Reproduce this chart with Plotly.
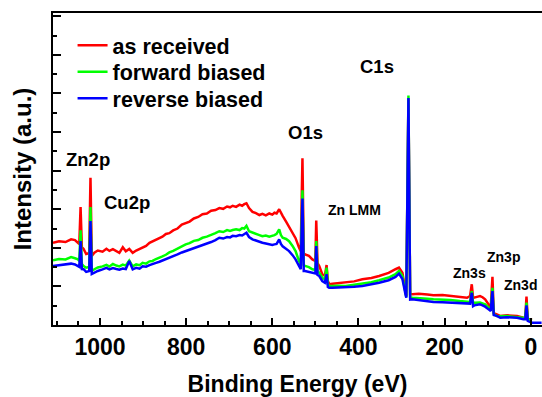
import plotly.graph_objects as go

# Binding energy grid (eV), shared by the three spectra
energy = [1109, 1095, 1080, 1067, 1058, 1051, 1048, 1045, 1042, 1038, 1032, 1025, 1022, 1019,
          1013, 1005, 994, 985, 978, 970, 962, 955, 947, 940, 932, 924, 916, 908, 901, 893, 885, 878,
          870, 862, 855, 847, 839, 830, 820, 810, 801, 792, 782, 772, 762, 752, 742, 732, 723, 714,
          705, 698, 692, 684, 676, 670, 665, 660, 654, 646, 638, 630, 623, 615, 607, 600, 595, 590,
          584, 580, 576, 568, 561, 553, 546, 538, 534,
          530, 527, 524, 515, 507, 500, 498, 495, 491, 484, 478, 474, 471, 468, 460, 450, 430, 410,
          391, 370, 352, 330, 314, 306, 298, 291, 289, 284, 280, 275, 260, 240, 226, 205, 187, 165,
          148, 141, 137, 134, 131, 125, 118, 112, 106, 98, 93, 89, 86, 79, 71, 55, 40, 32, 17, 13,
          10, 7, -3]

as_received = [4.26, 4.34, 4.30, 4.44, 4.40, 4.26, 4.20, 6.11, 4.04, 3.94, 3.68, 3.73, 7.63, 3.58,
               3.75, 3.86, 3.80, 3.95, 3.84, 3.93, 3.82, 3.74, 4.03, 3.82, 3.94, 3.74, 3.86, 3.95, 4.02, 4.10, 4.26, 4.33,
               4.44, 4.52, 4.58, 4.72, 4.76, 4.90, 5.00, 5.20, 5.28, 5.36, 5.52, 5.60, 5.74, 5.78, 5.92, 5.96, 6.06, 6.02,
               6.14, 6.10, 6.18, 6.12, 6.24, 6.18, 6.26, 6.31, 6.06, 5.86, 5.80, 5.70, 5.76, 5.68, 5.78, 5.72, 5.82, 5.78,
               6.00, 5.80, 5.66, 5.36, 5.06, 4.78, 4.50, 4.01, 3.83,
               8.64, 3.73, 3.66, 3.58, 3.40, 3.32, 5.42, 3.21, 3.06, 2.63, 2.54, 3.11, 2.28, 2.11, 2.14, 2.16, 2.19, 2.26,
               2.37, 2.44, 2.54, 2.70, 2.89, 2.97, 2.71, 1.76, 1.50, 11.70, 1.61, 1.59, 1.62, 1.58, 1.54, 1.55, 1.50, 1.46,
               1.41, 1.50, 2.11, 1.40, 1.41, 1.46, 1.50, 1.44, 1.33, 1.07, 0.90, 2.50, 0.62, 0.55, 0.47, 0.50, 0.46, 0.47, 0.38, 0.36,
               1.47, 0.31, 0.30]

forward_biased = [3.35, 3.42, 3.40, 3.52, 3.46, 3.40, 3.32, 4.91, 3.16, 3.06, 2.97, 3.01, 6.11, 2.80,
                  2.89, 2.98, 3.04, 3.12, 3.03, 3.16, 3.08, 3.04, 3.13, 3.08, 3.34, 3.04, 3.14, 3.10, 3.22, 3.18, 3.30, 3.32,
                  3.42, 3.48, 3.56, 3.64, 3.76, 3.84, 3.96, 4.06, 4.18, 4.24, 4.36, 4.40, 4.52, 4.58, 4.66, 4.76, 4.86, 4.82,
                  4.92, 4.88, 4.92, 4.96, 4.92, 5.02, 5.00, 5.14, 4.86, 4.78, 4.72, 4.66, 4.60, 4.64, 4.58, 4.62, 4.66, 4.72,
                  4.96, 4.66, 4.52, 4.46, 4.34, 4.10, 3.83, 3.32, 3.15,
                  6.98, 3.11, 3.06, 3.00, 2.89, 2.85, 4.35, 2.80, 2.71, 2.45, 2.37, 2.97, 2.12, 2.02, 2.02, 2.04, 2.02, 2.08,
                  2.14, 2.22, 2.32, 2.46, 2.63, 2.80, 2.54, 1.67, 1.45, 11.90, 1.45, 1.41, 1.40, 1.36, 1.33, 1.32, 1.30, 1.24,
                  1.19, 1.19, 1.76, 1.14, 1.15, 1.17, 1.16, 1.12, 1.07, 0.90, 0.78, 1.93, 0.57, 0.47, 0.45, 0.46, 0.42, 0.43, 0.38, 0.36,
                  1.16, 0.28, 0.26]

reverse_biased = [3.06, 3.10, 3.12, 3.18, 3.14, 3.06, 3.01, 4.35, 2.90, 2.89, 2.75, 2.80, 5.39, 2.64,
                  2.71, 2.80, 2.88, 2.96, 2.88, 2.95, 2.90, 2.87, 2.93, 2.90, 3.32, 2.88, 2.96, 2.92, 3.04, 3.02, 3.10, 3.14,
                  3.22, 3.28, 3.34, 3.40, 3.50, 3.58, 3.66, 3.76, 3.83, 3.90, 3.98, 4.06, 4.14, 4.20, 4.30, 4.40, 4.52, 4.48,
                  4.56, 4.54, 4.62, 4.60, 4.66, 4.64, 4.70, 4.78, 4.56, 4.44, 4.38, 4.30, 4.26, 4.22, 4.18, 4.15, 4.18, 4.20,
                  4.44, 4.20, 4.08, 3.96, 3.83, 3.62, 3.40, 3.06, 2.89,
                  6.56, 2.80, 2.80, 2.75, 2.71, 2.67, 4.09, 2.59, 2.54, 2.28, 2.19, 2.63, 1.97, 1.93, 1.93, 1.94, 1.93, 1.98,
                  2.02, 2.10, 2.19, 2.32, 2.49, 2.66, 2.38, 1.61, 1.41, 11.76, 1.32, 1.33, 1.28, 1.24, 1.19, 1.18, 1.16, 1.14,
                  1.12, 1.11, 1.67, 0.98, 1.02, 1.05, 1.07, 1.02, 0.95, 0.81, 0.73, 1.76, 0.52, 0.47, 0.38, 0.40, 0.37, 0.38, 0.30, 0.30,
                  1.02, 0.21, 0.12]
reverse_tail_energy = [-25]
reverse_tail_values = [0.12]

assert len(energy) == len(as_received) == len(forward_biased) == len(reverse_biased)

series_names = ["as received", "forward biased", "reverse biased"]
series_colors = ["#ff0000", "#00ff00", "#0000ff"]
legend_ids = ["legend", "legend2", "legend3"]
legend_tops = [0.962, 0.877, 0.792]

# Peak labels: (text, energy, intensity, font size)
peak_labels = [
    ("Zn2p", 1027, 8.60, 18.5),
    ("Cu2p", 937, 6.33, 18.5),
    ("O1s", 523, 10.0, 18.5),
    ("C1s", 358, 13.4, 18.5),
    ("Zn LMM", 409, 5.98, 14),
    ("Zn3s", 143, 2.67, 14),
    ("Zn3p", 63, 3.55, 14),
    ("Zn3d", 25, 2.09, 14),
]

FONT = "Liberation Sans, Arial, sans-serif"

fig = go.Figure()
ys = [as_received, forward_biased, reverse_biased + reverse_tail_values]
xs = [energy, energy, energy + reverse_tail_energy]
for name, color, x, y, lg in zip(series_names, series_colors, xs, ys, legend_ids):
    fig.add_trace(go.Scatter(x=x, y=y, mode="lines", name=name, legend=lg,
                             line=dict(color=color, width=2.5)))

for text, ex, iy, fs in peak_labels:
    fig.add_annotation(x=ex, y=iy, text=text, showarrow=False,
                       font=dict(family=FONT, size=fs, color="black", weight="bold"))

legend_style = dict(x=0.04, xanchor="left", yanchor="top",
                    bgcolor="rgba(0,0,0,0)", borderwidth=0,
                    font=dict(family=FONT, size=21.5, color="black", weight="bold"))

fig.update_layout(
    width=542, height=397,
    margin=dict(l=53, r=0, t=13, b=72),
    paper_bgcolor="white", plot_bgcolor="white",
    font=dict(family=FONT, color="black"),
    showlegend=True,
    legend=dict(y=legend_tops[0], **legend_style),
    legend2=dict(y=legend_tops[1], **legend_style),
    legend3=dict(y=legend_tops[2], **legend_style),
    xaxis=dict(
        range=[1109, -26], showgrid=False, zeroline=False,
        showline=True, linecolor="black", linewidth=2, mirror=True,
        ticks="inside", ticklen=7, tickwidth=2, tickcolor="black",
        tick0=0, dtick=200,
        minor=dict(ticks="inside", ticklen=4, tickwidth=2, tickcolor="black", dtick=50, showgrid=False),
        tickfont=dict(family=FONT, size=23, color="black", weight="bold"),
        title=dict(text="Binding Energy (eV)", standoff=18,
                   font=dict(family=FONT, size=23, color="black", weight="bold")),
    ),
    yaxis=dict(
        range=[0, 16.17], showgrid=False, zeroline=False,
        showline=True, linecolor="black", linewidth=2, mirror=False,
        ticks="inside", ticklen=8, tickwidth=2, tickcolor="black",
        tick0=0, dtick=2, showticklabels=False,
        minor=dict(ticks="inside", ticklen=4, tickwidth=2, tickcolor="black", dtick=1, showgrid=False),
        title=dict(text="Intensity (a.u.)", standoff=13,
                   font=dict(family=FONT, size=24, color="black", weight="bold")),
    ),
)

fig.write_html("out.html")
